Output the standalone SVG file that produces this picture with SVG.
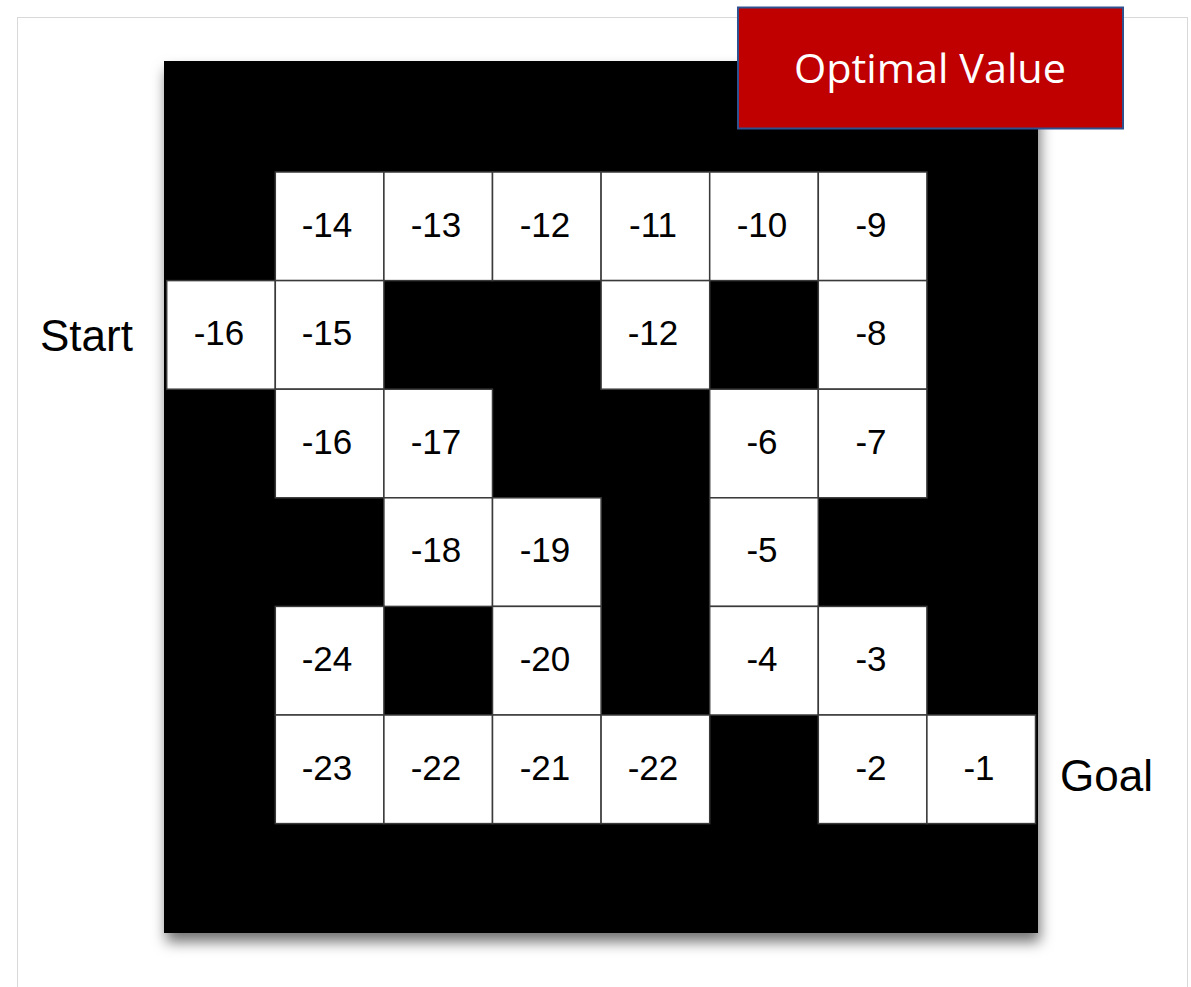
<svg xmlns="http://www.w3.org/2000/svg" width="1191" height="987" viewBox="0 0 1191 987">
<defs>
<filter id="shadow" x="-10%" y="-10%" width="120%" height="120%">
<feDropShadow dx="2" dy="9" stdDeviation="7" flood-color="#000" flood-opacity="0.55"/>
</filter>
<style>
.cell{fill:#fff;stroke:#3a3a3a;stroke-width:1.5}
.num{font-family:"Liberation Sans",Arial,sans-serif;font-size:35px;fill:#000;text-anchor:middle}
.lbl{font-family:"Liberation Sans",Arial,sans-serif;font-size:44px;fill:#000}
</style>
</defs>
<rect x="0" y="0" width="1191" height="987" fill="#fff"/>
<rect x="17.5" y="17.5" width="1170" height="990" fill="#fff" stroke="#d9d9d9" stroke-width="1"/>
<g id="board">
<rect x="164" y="61" width="874" height="872" fill="#000" filter="url(#shadow)"/>
</g>
<g id="cells">
<g id="c-1-1"><rect class="cell" x="275.3" y="172" width="108.6" height="108.6"/><text class="num" x="327" y="237">-14</text></g>
<g id="c-2-1"><rect class="cell" x="383.9" y="172" width="108.6" height="108.6"/><text class="num" x="436" y="237">-13</text></g>
<g id="c-3-1"><rect class="cell" x="492.5" y="172" width="108.6" height="108.6"/><text class="num" x="545" y="237">-12</text></g>
<g id="c-4-1"><rect class="cell" x="601.1" y="172" width="108.6" height="108.6"/><text class="num" x="653" y="237">-11</text></g>
<g id="c-5-1"><rect class="cell" x="709.7" y="172" width="108.6" height="108.6"/><text class="num" x="762" y="237">-10</text></g>
<g id="c-6-1"><rect class="cell" x="818.3" y="172" width="108.6" height="108.6"/><text class="num" x="871" y="237">-9</text></g>

<g id="c-0-2"><rect class="cell" x="166.7" y="280.6" width="108.6" height="108.6"/><text class="num" x="219" y="345">-16</text></g>
<g id="c-1-2"><rect class="cell" x="275.3" y="280.6" width="108.6" height="108.6"/><text class="num" x="327" y="345">-15</text></g>
<g id="c-4-2"><rect class="cell" x="601.1" y="280.6" width="108.6" height="108.6"/><text class="num" x="653" y="345">-12</text></g>
<g id="c-6-2"><rect class="cell" x="818.3" y="280.6" width="108.6" height="108.6"/><text class="num" x="871" y="345">-8</text></g>

<g id="c-1-3"><rect class="cell" x="275.3" y="389.2" width="108.6" height="108.6"/><text class="num" x="327" y="454">-16</text></g>
<g id="c-2-3"><rect class="cell" x="383.9" y="389.2" width="108.6" height="108.6"/><text class="num" x="436" y="454">-17</text></g>
<g id="c-5-3"><rect class="cell" x="709.7" y="389.2" width="108.6" height="108.6"/><text class="num" x="762" y="454">-6</text></g>
<g id="c-6-3"><rect class="cell" x="818.3" y="389.2" width="108.6" height="108.6"/><text class="num" x="871" y="454">-7</text></g>

<g id="c-2-4"><rect class="cell" x="383.9" y="497.8" width="108.6" height="108.6"/><text class="num" x="436" y="562">-18</text></g>
<g id="c-3-4"><rect class="cell" x="492.5" y="497.8" width="108.6" height="108.6"/><text class="num" x="545" y="562">-19</text></g>
<g id="c-5-4"><rect class="cell" x="709.7" y="497.8" width="108.6" height="108.6"/><text class="num" x="762" y="562">-5</text></g>

<g id="c-1-5"><rect class="cell" x="275.3" y="606.4" width="108.6" height="108.6"/><text class="num" x="327" y="671">-24</text></g>
<g id="c-3-5"><rect class="cell" x="492.5" y="606.4" width="108.6" height="108.6"/><text class="num" x="545" y="671">-20</text></g>
<g id="c-5-5"><rect class="cell" x="709.7" y="606.4" width="108.6" height="108.6"/><text class="num" x="762" y="671">-4</text></g>
<g id="c-6-5"><rect class="cell" x="818.3" y="606.4" width="108.6" height="108.6"/><text class="num" x="871" y="671">-3</text></g>

<g id="c-1-6"><rect class="cell" x="275.3" y="715" width="108.6" height="108.6"/><text class="num" x="327" y="780">-23</text></g>
<g id="c-2-6"><rect class="cell" x="383.9" y="715" width="108.6" height="108.6"/><text class="num" x="436" y="780">-22</text></g>
<g id="c-3-6"><rect class="cell" x="492.5" y="715" width="108.6" height="108.6"/><text class="num" x="545" y="780">-21</text></g>
<g id="c-4-6"><rect class="cell" x="601.1" y="715" width="108.6" height="108.6"/><text class="num" x="653" y="780">-22</text></g>
<g id="c-6-6"><rect class="cell" x="818.3" y="715" width="108.6" height="108.6"/><text class="num" x="871" y="780">-2</text></g>
<g id="c-7-6"><rect class="cell" x="926.9" y="715" width="108.6" height="108.6"/><text class="num" x="979" y="780">-1</text></g>
</g>
<g id="start"><text class="lbl" x="40" y="351">Start</text></g>
<g id="goal"><text class="lbl" x="1060" y="791">Goal</text></g>
<g id="title">
<rect x="738" y="7.5" width="385" height="121" fill="#C00000" stroke="#2F528F" stroke-width="2"/>
<text x="930" y="83" font-family="'Open Sans','Liberation Sans',sans-serif" font-size="40" fill="#fff" text-anchor="middle" textLength="272" lengthAdjust="spacingAndGlyphs">Optimal Value</text>
</g>
<g id="connectors"/>
</svg>
